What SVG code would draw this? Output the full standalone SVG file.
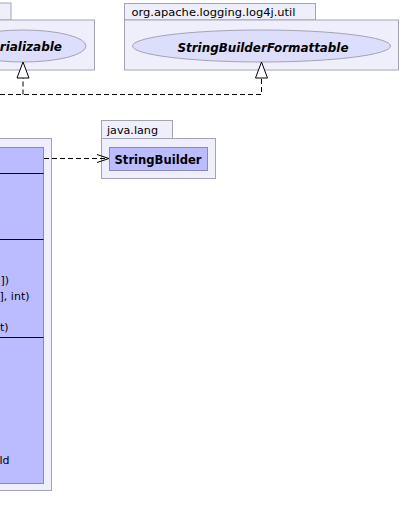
<svg xmlns="http://www.w3.org/2000/svg" width="401" height="529" viewBox="0 0 401 529">
<style>
.pkg{fill:#EFEFFC;stroke:#A3A3B5;stroke-width:1}
.cls{fill:#BBBBFF;stroke:#8A8AB4;stroke-width:1}
.iface{fill:#DDDDFC;stroke:#A3A3B5;stroke-width:1}
.sep{stroke:#000;stroke-width:1}
.tab{font-family:"DejaVu Sans","Noto Sans",sans-serif;font-size:11px;fill:#000}
.mem{font-family:"DejaVu Sans","Noto Sans",sans-serif;font-size:11px;fill:#000}
.bi{font-family:"DejaVu Sans","Noto Sans",sans-serif;font-size:12px;font-weight:bold;font-style:italic;fill:#000}
.b{font-family:"DejaVu Sans","Noto Sans",sans-serif;font-size:12px;font-weight:bold;fill:#000}
.dash{fill:none;stroke:#000;stroke-width:1;stroke-dasharray:5,3}
</style>
<rect width="401" height="529" fill="#FFFFFF"/>
<g id="pkg-java-io">
<rect class="pkg" x="-48" y="3" width="59" height="17"/>
<rect class="pkg" x="-48" y="20" width="142.5" height="50"/>
<g id="Serializable">
<ellipse class="iface" cx="23" cy="46" rx="63" ry="16"/>
<text class="bi" x="62" y="51" text-anchor="end">rializable</text>
</g>
</g>
<g id="pkg-log4j-util">
<rect class="pkg" x="124.5" y="3.5" width="191" height="16.5"/>
<rect class="pkg" x="124.5" y="20" width="274" height="50"/>
<text class="tab" x="131.5" y="16" textLength="164" lengthAdjust="spacingAndGlyphs">org.apache.logging.log4j.util</text>
<g id="StringBuilderFormattable">
<ellipse class="iface" cx="261.5" cy="46" rx="129" ry="16"/>
<text class="bi" x="263" y="51.5" text-anchor="middle" textLength="171" lengthAdjust="spacingAndGlyphs">StringBuilderFormattable</text>
</g>
</g>
<g id="pkg-java-lang">
<rect class="pkg" x="101.5" y="120.5" width="71" height="18"/>
<rect class="pkg" x="101.5" y="138.5" width="114" height="40"/>
<text class="tab" x="107" y="133.5" textLength="51" lengthAdjust="spacingAndGlyphs">java.lang</text>
<g id="StringBuilder">
<rect class="cls" x="109.5" y="147.5" width="98" height="23"/>
<text class="b" x="114.5" y="164" textLength="87" lengthAdjust="spacingAndGlyphs">StringBuilder</text>
</g>
</g>
<g id="pkg-main">
<rect class="pkg" x="-200" y="138.5" width="251.5" height="352"/>
<g id="MainClass">
<rect class="cls" x="-192" y="147.5" width="235.5" height="336"/>
<line class="sep" x1="-192" y1="173.5" x2="43.5" y2="173.5"/>
<line class="sep" x1="-192" y1="239.5" x2="43.5" y2="239.5"/>
<line class="sep" x1="-192" y1="337.5" x2="43.5" y2="337.5"/>
<text class="mem" x="9" y="283.5" text-anchor="end">])</text>
<text class="mem" x="29.5" y="299.5" text-anchor="end">], int)</text>
<text class="mem" x="8.5" y="331" text-anchor="end">t)</text>
<text class="mem" x="9.5" y="463.5" text-anchor="end">ld</text>
</g>
</g>
<g id="connectors">
<path class="dash" d="M0,94.5 H261.5 V78"/>
<path class="dash" d="M23,94.5 V78"/>
<polygon points="23,62 17,78 29,78" fill="#FFFFFF" stroke="#000" stroke-width="1"/>
<polygon points="261.5,62 255.5,78 267.5,78" fill="#FFFFFF" stroke="#000" stroke-width="1"/>
<path class="dash" d="M44,158.5 H108"/>
<path d="M97,154.5 L109,158.5 L97,162.5" fill="none" stroke="#000" stroke-width="1"/>
</g>
</svg>
